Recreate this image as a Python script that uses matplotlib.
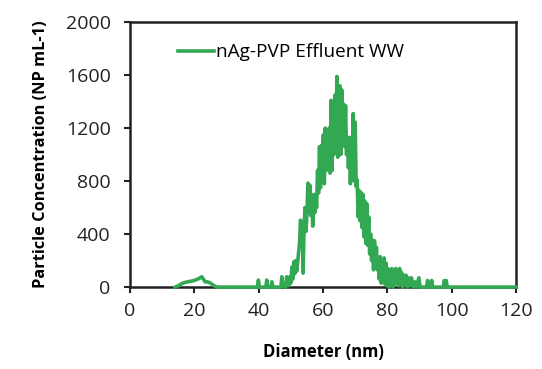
import matplotlib.pyplot as plt

# particle size distribution (diameter nm, NP mL-1)
diameter = [14, 15, 16, 17, 18, 19, 20, 21, 21.5, 22, 22.3, 22.8, 23.3, 24, 25, 26, 27,
            39.6, 39.9, 40.2, 42.2, 42.5, 42.8, 43.8, 44.1, 44.4, 46.9, 47.2, 47.5,
            48.4, 48.7, 49.0, 49.4, 49.7,
            50.0, 50.3, 50.6, 50.9, 51.2, 51.5, 51.8, 52.1, 52.4, 52.7, 53.0, 53.3,
            53.6, 53.8, 54.1, 54.4, 54.7, 55.0, 55.3, 55.6, 55.9, 56.2, 56.5, 56.8,
            57.1, 57.4, 57.7, 58.0, 58.3, 58.6, 58.9, 59.2, 59.5, 59.8, 60.1, 60.4,
            60.7, 61.0, 61.3, 61.6, 61.9, 62.2, 62.5, 62.8, 63.1, 63.4, 63.7, 64.0,
            64.3, 64.6, 64.9, 65.2, 65.5, 65.8, 66.1, 66.4, 66.7, 67.0, 67.3, 67.6,
            67.9, 68.2, 68.5, 68.8, 69.1, 69.4, 69.7, 70.0, 70.3, 70.6, 70.9, 71.2,
            71.5, 71.8, 72.1, 72.4, 72.7, 73.0, 73.3, 73.6, 73.9, 74.2, 74.5, 74.8,
            75.1, 75.4, 75.7, 76.0, 76.3, 76.6, 76.9, 77.2, 77.5, 77.8, 78.1, 78.4,
            78.7, 79.0, 79.3, 79.6, 79.9, 80.2, 80.5, 80.8, 81.1, 81.4, 81.7, 82.0,
            82.3, 82.6, 82.9, 83.2, 83.5, 83.8, 84.1, 84.4, 84.7, 85.0, 85.4, 85.8,
            86.2, 86.6, 87.0, 87.5, 88.0, 88.5, 89.0, 89.8, 90.2,
            92.2, 92.5, 92.8, 93.5, 93.8, 94.1, 97.4, 97.7, 98.0, 98.3, 98.6, 120]
concentration = [0, 10, 25, 35, 40, 45, 50, 60, 65, 75, 78, 60, 40, 40, 30, 12, 0,
                 0, 53, 0, 0, 53, 0, 0, 40, 0, 0, 78, 10,
                 0, 78, 20, 10, 78,
                 30, 150, 60, 190, 100, 200, 120, 180, 260, 330, 505, 380,
                 420, 105, 450, 600, 420, 560, 785, 560, 770, 540, 690, 460,
                 700, 560, 680, 600, 880, 710, 1060, 750, 1070, 900, 1150, 780,
                 1200, 880, 1180, 940, 1200, 860, 1410, 880, 1250, 1000, 1450, 1050,
                 1590, 980, 1300, 1520, 1000, 1490, 1150, 1380, 1060, 1370, 1000, 1130,
                 900, 1130, 780, 1000, 900, 1310, 800, 1245, 760, 810, 530, 730,
                 500, 715, 450, 700, 380, 650, 330, 630, 315, 530, 250, 400,
                 200, 355, 130, 350, 150, 300, 130, 220, 60, 230, 30, 200,
                 40, 220, 20, 180, 10, 140, 0, 130, 50, 140, 0, 110,
                 20, 140, 40, 115, 10, 140, 30, 110, 0, 90, 20, 90,
                 0, 70, 10, 70, 0, 40, 0, 70, 0,
                 0, 50, 0, 0, 50, 0, 0, 50, 0, 50, 0, 0]

x_ticks = [0, 20, 40, 60, 80, 100, 120]
y_ticks = [0, 400, 800, 1200, 1600, 2000]

plt.rcParams['font.family'] = ['Open Sans', 'DejaVu Sans']

fig = plt.figure(figsize=(5.42, 3.69), dpi=100)
ax = fig.add_axes([0.240, 0.222, 0.712, 0.718])

ax.plot(diameter, concentration, color="#33a853", lw=2.6, label="nAg-PVP Effluent WW",
        zorder=3, clip_on=False)

ax.set_xlim(0, 120)
ax.set_ylim(0, 2000)
ax.set_xticks(x_ticks)
ax.set_yticks(y_ticks)
ax.tick_params(direction="out", length=4, width=1.5, labelsize=14, colors="#222222")
ax.tick_params(axis="y", pad=10)
ax.tick_params(axis="x", pad=7)
for side in ax.spines.values():
    side.set_linewidth(1.8)
    side.set_color("#222222")

ax.set_xlabel("Diameter (nm)", fontsize=12, fontweight="bold", labelpad=16)
ax.set_ylabel("Particle Concentration (NP mL-1)", fontsize=11.8, fontweight="bold", labelpad=12)

ax.legend(loc="upper left", bbox_to_anchor=(0.08, 0.985), frameon=False, fontsize=13.7,
          handlelength=1.9, handletextpad=0.1)

fig.savefig("out.png", dpi=100)
